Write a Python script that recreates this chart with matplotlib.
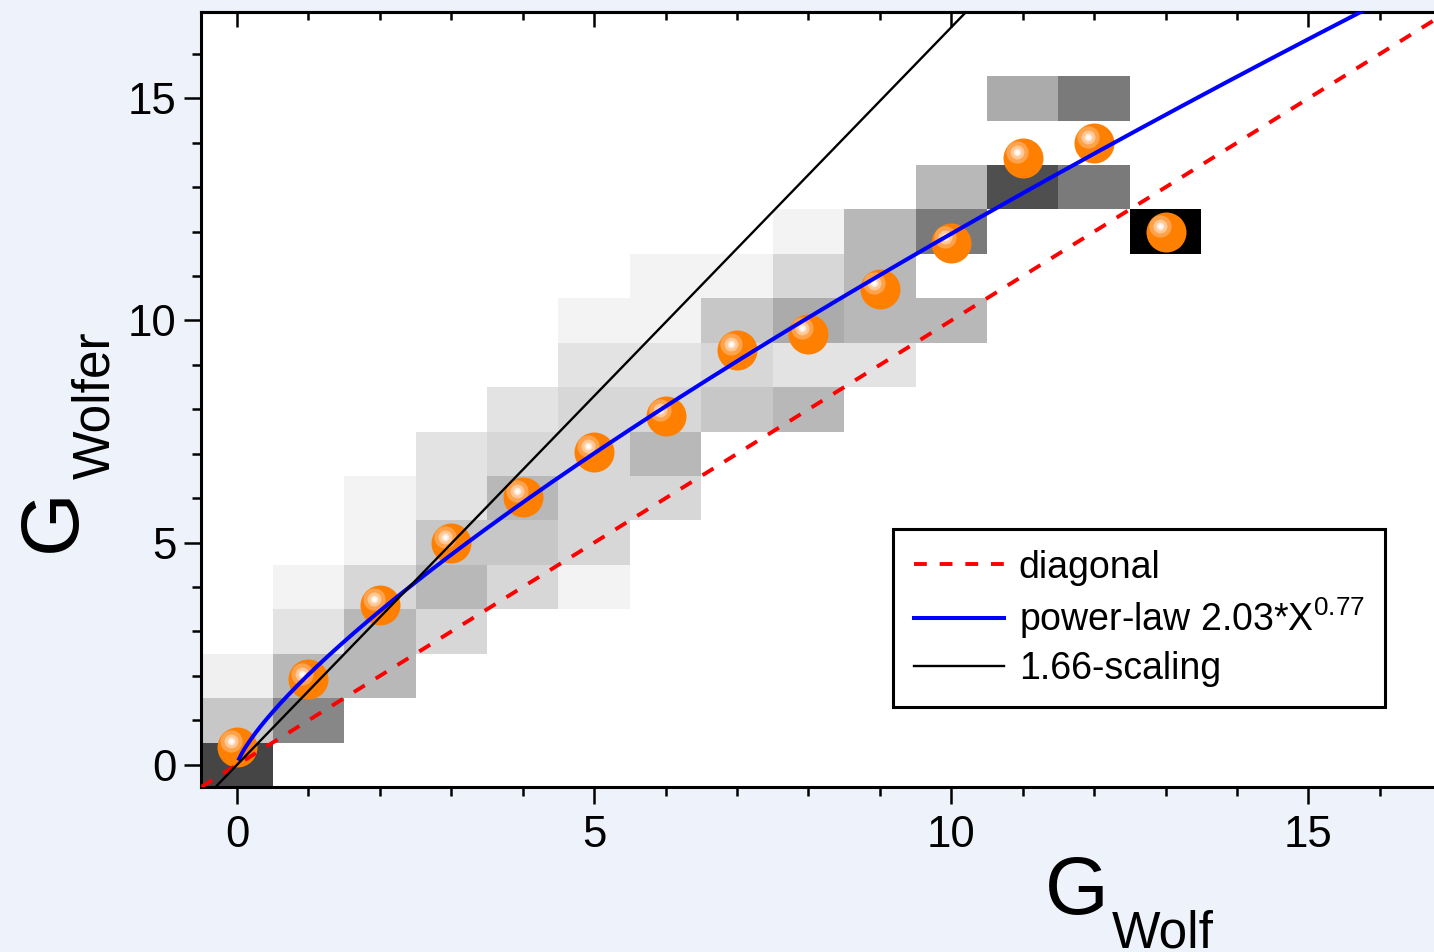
import numpy as np
import matplotlib
matplotlib.use("Agg")
import matplotlib.pyplot as plt
from matplotlib.colors import LinearSegmentedColormap
from matplotlib.transforms import offset_copy
from matplotlib.ticker import MultipleLocator, NullFormatter

plt.rcParams['font.family'] = ['Liberation Sans', 'DejaVu Sans']
plt.rcParams['mathtext.fontset'] = 'custom'
plt.rcParams['mathtext.rm'] = 'Liberation Sans'
plt.rcParams['mathtext.it'] = 'Liberation Sans:italic'

# G_Wolf bins and the mean G_Wolfer in each bin
wolf = [0, 1, 2, 3, 4, 5, 6, 7, 8, 9, 10, 11, 12, 13]
wolfer_mean = [0.40, 1.92, 3.60, 4.99, 6.03, 7.04, 7.85, 9.34, 9.69, 10.70,
               11.75, 13.66, 14.00, 12.00]

# 2D histogram shading (0 = empty, 1 = black); rows G_Wolfer 0..15, cols G_Wolf 0..13
density = [
    [0.73, 0, 0, 0, 0, 0, 0, 0, 0, 0, 0, 0, 0, 0],
    [0.22, 0.47, 0, 0, 0, 0, 0, 0, 0, 0, 0, 0, 0, 0],
    [0.06, 0.28, 0.28, 0, 0, 0, 0, 0, 0, 0, 0, 0, 0, 0],
    [0, 0.11, 0.28, 0.16, 0, 0, 0, 0, 0, 0, 0, 0, 0, 0],
    [0, 0.05, 0.16, 0.28, 0.16, 0.05, 0, 0, 0, 0, 0, 0, 0, 0],
    [0, 0, 0.05, 0.22, 0.22, 0.16, 0, 0, 0, 0, 0, 0, 0, 0],
    [0, 0, 0.05, 0.11, 0.28, 0.16, 0.16, 0, 0, 0, 0, 0, 0, 0],
    [0, 0, 0, 0.11, 0.16, 0.16, 0.28, 0, 0, 0, 0, 0, 0, 0],
    [0, 0, 0, 0, 0.11, 0.16, 0.16, 0.22, 0.28, 0, 0, 0, 0, 0],
    [0, 0, 0, 0, 0, 0.11, 0.11, 0.16, 0.11, 0.11, 0, 0, 0, 0],
    [0, 0, 0, 0, 0, 0.05, 0.05, 0.22, 0.33, 0.28, 0.28, 0, 0, 0],
    [0, 0, 0, 0, 0, 0, 0.05, 0.05, 0.16, 0.28, 0, 0, 0, 0],
    [0, 0, 0, 0, 0, 0, 0, 0, 0.05, 0.28, 0.52, 0, 0, 1.0],
    [0, 0, 0, 0, 0, 0, 0, 0, 0, 0, 0.28, 0.69, 0.52, 0],
    [0, 0, 0, 0, 0, 0, 0, 0, 0, 0, 0, 0, 0, 0],
    [0, 0, 0, 0, 0, 0, 0, 0, 0, 0, 0, 0.33, 0.52, 0],
]

# fitted curves
fit_a = 2.03
fit_b = 0.77
scale = 1.66

W, H = 1434, 952
fig = plt.figure(figsize=(W / 100, H / 100), dpi=100, facecolor='#eef2fb')
ax = fig.add_axes([201.3 / W, 165 / H, 1250 / W, 775.3 / H])
ax.set_facecolor('white')

dens = np.ma.masked_equal(np.array(density), 0)
xe = np.arange(dens.shape[1] + 1) - 0.5
ye = np.arange(dens.shape[0] + 1) - 0.5
grey = LinearSegmentedColormap.from_list('wg', ['white', 'black'])
ax.pcolormesh(xe, ye, dens, cmap=grey, vmin=0, vmax=1, zorder=1)

# spheres
ax.plot(wolf, wolfer_mean, 'o', ms=28.8, color='#ff8000', mec='none', zorder=3)
hl = offset_copy(ax.transData, fig=fig, x=-4.3, y=4.3, units='points')
for ms, c in [(16, '#ffa24c'), (10, '#ffc896'), (5.5, '#ffe8d4'), (3, 'white')]:
    ax.plot(wolf, wolfer_mean, 'o', ms=ms, color=c, mec='none',
            transform=hl, zorder=3.1)

ax.axline((0, 0), slope=1, color='#ff0000', lw=2.8, ls=(0, (3.3, 3.3)),
          label='diagonal', zorder=4)
xf = np.linspace(0.03, 17, 500)
ax.plot(xf, fit_a * xf ** fit_b, color='#0000ff', lw=2.9, zorder=4,
        label=f'power-law {fit_a:.2f}*X$^{{{fit_b:.2f}}}$')
ax.axline((0, 0), slope=scale, color='black', lw=1.7, zorder=4,
          label=f'{scale:.2f}-scaling')

ax.set_xlim(-0.5, 17)
ax.set_ylim(-0.5, 16.95)

for s in ax.spines.values():
    s.set_linewidth(2.2)
ax.xaxis.set_major_locator(MultipleLocator(5))
ax.xaxis.set_minor_locator(MultipleLocator(1))
ax.yaxis.set_major_locator(MultipleLocator(5))
ax.yaxis.set_minor_locator(MultipleLocator(1))
ax.tick_params(which='major', direction='out', length=12, width=1.8,
               labelsize=31.5)
ax.tick_params(which='minor', direction='out', length=6.5, width=1.8)
ax.tick_params(axis='x', pad=8)
ax.tick_params(axis='y', pad=6)

secx = ax.secondary_xaxis('top')
secx.xaxis.set_major_locator(MultipleLocator(5))
secx.xaxis.set_minor_locator(MultipleLocator(1))
secx.xaxis.set_major_formatter(NullFormatter())
secx.tick_params(which='major', direction='in', length=11, width=1.8)
secx.tick_params(which='minor', direction='in', length=6, width=1.8)
secx.spines['top'].set_linewidth(2.2)

secy = ax.secondary_yaxis('right')
secy.yaxis.set_major_locator(MultipleLocator(5))
secy.yaxis.set_major_formatter(NullFormatter())
secy.tick_params(which='major', direction='in', length=12, width=1.8)
secy.spines['right'].set_linewidth(2.2)

leg = ax.legend(loc='upper left', bbox_to_anchor=(0.5534, 0.3328),
                frameon=True, fancybox=False, edgecolor='black', framealpha=1,
                fontsize=27, handlelength=2.4, handletextpad=0.4,
                labelspacing=0.26, borderpad=0.55, borderaxespad=0)
leg.get_frame().set_linewidth(2.2)

# axis labels with subscripts
fig.text(1045 / W, 38 / H, 'G', fontsize=59, ha='left', va='baseline')
fig.text(1112 / W, 4 / H, 'Wolf', fontsize=37, ha='left', va='baseline')
fig.text(75 / W, 400 / H, 'G', fontsize=59, ha='left', va='baseline',
         rotation=90, rotation_mode='anchor')
fig.text(109 / W, 473 / H, 'Wolfer', fontsize=37, ha='left', va='baseline',
         rotation=90, rotation_mode='anchor')

fig.savefig('out.png', dpi=100, facecolor=fig.get_facecolor())
